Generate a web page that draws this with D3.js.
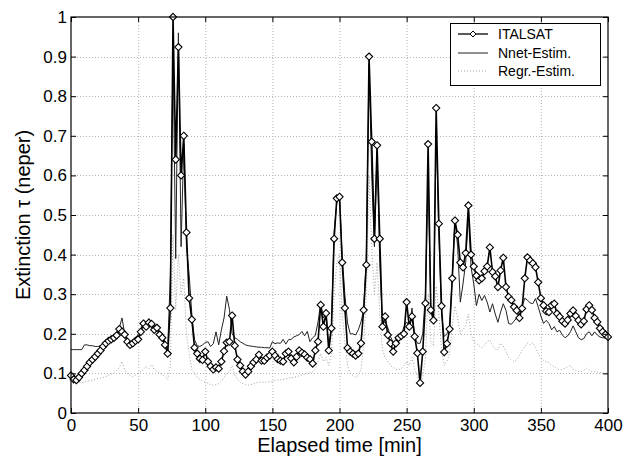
<!DOCTYPE html>
<html>
<head>
<meta charset="utf-8">
<script src="https://cdn.jsdelivr.net/npm/d3@7"></script>
<style>
  body { margin: 0; background: #fff; }
  svg { display: block; font-family: "Liberation Sans", Arial, Helvetica, sans-serif; }
</style>
</head>
<body>
<div id="chart"></div>
<script>
// sample times, one every 2 minutes
const minutes = d3.range(0, 401, 2);

const italsat = [
  0.095,0.085,0.083,0.09,0.10,0.108,0.118,0.128,0.135,0.142,
  0.15,0.158,0.168,0.176,0.182,0.186,0.19,0.196,0.212,0.205,
  0.198,0.18,0.172,0.176,0.182,0.186,0.205,0.226,0.218,0.228,
  0.225,0.21,0.215,0.198,0.19,0.172,0.15,0.265,1.0,0.64,
  0.924,0.60,0.70,0.456,0.29,0.236,0.165,0.15,0.137,0.134,
  0.155,0.13,0.118,0.11,0.115,0.112,0.13,0.156,0.178,0.18,
  0.246,0.17,0.135,0.12,0.105,0.097,0.105,0.118,0.128,0.135,
  0.147,0.132,0.132,0.14,0.145,0.155,0.145,0.136,0.132,0.13,
  0.15,0.155,0.138,0.128,0.142,0.158,0.152,0.148,0.14,0.136,
  0.125,0.158,0.18,0.273,0.218,0.252,0.158,0.214,0.44,0.542,
  0.546,0.38,0.265,0.164,0.155,0.15,0.145,0.15,0.176,0.26,
  0.374,0.90,0.685,0.44,0.676,0.44,0.218,0.244,0.197,0.176,
  0.155,0.176,0.19,0.195,0.2,0.28,0.218,0.244,0.193,0.151,
  0.076,0.155,0.277,0.679,0.26,0.234,0.77,0.478,0.27,0.154,
  0.175,0.212,0.34,0.486,0.45,0.38,0.368,0.404,0.524,0.40,
  0.37,0.347,0.335,0.34,0.358,0.37,0.418,0.356,0.345,0.318,
  0.36,0.392,0.318,0.293,0.285,0.268,0.259,0.24,0.264,0.34,
  0.393,0.385,0.378,0.368,0.33,0.29,0.272,0.257,0.255,0.272,
  0.276,0.251,0.243,0.232,0.226,0.235,0.251,0.259,0.245,0.234,
  0.224,0.232,0.262,0.272,0.26,0.24,0.23,0.214,0.205,0.198,
  0.192
];

const nnetEstim = [
  0.16,0.16,0.16,0.16,0.16,0.172,0.172,0.17,0.17,0.168,
  0.168,0.17,0.178,0.18,0.183,0.19,0.193,0.2,0.215,0.24,
  0.2,0.185,0.178,0.18,0.19,0.198,0.21,0.232,0.225,0.238,
  0.228,0.22,0.215,0.205,0.2,0.18,0.16,0.35,0.92,0.39,
  0.96,0.42,0.68,0.42,0.35,0.25,0.185,0.17,0.168,0.172,
  0.178,0.18,0.168,0.175,0.205,0.172,0.21,0.24,0.295,0.262,
  0.2,0.19,0.186,0.18,0.176,0.172,0.17,0.169,0.168,0.167,
  0.166,0.166,0.165,0.165,0.164,0.18,0.175,0.177,0.176,0.186,
  0.174,0.185,0.186,0.192,0.195,0.198,0.206,0.195,0.206,0.18,
  0.19,0.196,0.23,0.277,0.24,0.252,0.17,0.22,0.46,0.53,
  0.55,0.40,0.298,0.227,0.2,0.2,0.197,0.21,0.23,0.26,
  0.40,0.88,0.60,0.42,0.66,0.378,0.227,0.23,0.215,0.193,
  0.178,0.18,0.188,0.195,0.218,0.23,0.218,0.265,0.193,0.176,
  0.176,0.2,0.3,0.6,0.267,0.242,0.72,0.45,0.25,0.193,
  0.2,0.217,0.343,0.49,0.42,0.28,0.326,0.38,0.5,0.368,
  0.326,0.271,0.3,0.284,0.297,0.28,0.255,0.276,0.25,0.229,
  0.255,0.276,0.259,0.226,0.224,0.232,0.24,0.25,0.268,0.29,
  0.285,0.278,0.276,0.289,0.268,0.245,0.226,0.234,0.226,0.21,
  0.218,0.205,0.209,0.197,0.19,0.195,0.205,0.22,0.205,0.19,
  0.185,0.188,0.2,0.205,0.195,0.205,0.197,0.192,0.19,0.19,
  0.19
];

const regrEstim = [
  0.085,0.082,0.08,0.078,0.077,0.078,0.08,0.082,0.083,0.085,
  0.087,0.088,0.09,0.092,0.095,0.098,0.102,0.108,0.115,0.13,
  0.11,0.1,0.095,0.092,0.096,0.1,0.105,0.11,0.118,0.112,
  0.122,0.11,0.105,0.1,0.098,0.092,0.085,0.12,0.45,0.26,
  0.40,0.3,0.34,0.2,0.15,0.11,0.1,0.09,0.085,0.08,
  0.078,0.075,0.072,0.07,0.072,0.074,0.08,0.09,0.1,0.105,
  0.12,0.095,0.085,0.078,0.074,0.072,0.07,0.072,0.074,0.076,
  0.078,0.078,0.078,0.078,0.079,0.08,0.082,0.083,0.084,0.085,
  0.086,0.088,0.089,0.09,0.092,0.094,0.096,0.098,0.1,0.102,
  0.104,0.11,0.13,0.15,0.13,0.14,0.12,0.15,0.3,0.38,
  0.4,0.25,0.18,0.12,0.1,0.095,0.09,0.095,0.11,0.17,
  0.3,0.6,0.42,0.3,0.38,0.25,0.16,0.14,0.13,0.12,
  0.115,0.11,0.11,0.112,0.12,0.13,0.12,0.14,0.11,0.095,
  0.07,0.09,0.14,0.3,0.18,0.17,0.32,0.25,0.16,0.12,
  0.13,0.15,0.22,0.27,0.24,0.2,0.21,0.22,0.25,0.2,
  0.18,0.176,0.17,0.165,0.17,0.18,0.184,0.17,0.162,0.159,
  0.176,0.17,0.155,0.14,0.134,0.13,0.135,0.145,0.158,0.168,
  0.177,0.172,0.177,0.165,0.15,0.138,0.132,0.13,0.127,0.12,
  0.117,0.112,0.109,0.11,0.113,0.117,0.12,0.11,0.107,0.105,
  0.104,0.108,0.113,0.108,0.104,0.105,0.103,0.102,0.101,0.1,
  0.1
];

const xTicks = [0, 50, 100, 150, 200, 250, 300, 350, 400];
const yTicks = [0, 0.1, 0.2, 0.3, 0.4, 0.5, 0.6, 0.7, 0.8, 0.9, 1];
const xTickLabels = ["0", "50", "100", "150", "200", "250", "300", "350", "400"];
const yTickLabels = ["0", "0.1", "0.2", "0.3", "0.4", "0.5", "0.6", "0.7", "0.8", "0.9", "1"];
const legendNames = ["ITALSAT", "Nnet-Estim.", "Regr.-Estim."];

const width = 641, height = 463;
const margin = {top: 17, right: 33, bottom: 50, left: 71};
const plotW = width - margin.left - margin.right;
const plotH = height - margin.top - margin.bottom;

const svg = d3.select("#chart").append("svg")
  .attr("width", width)
  .attr("height", height);

const x = d3.scaleLinear().domain([0, 400]).range([margin.left, margin.left + plotW]);
const y = d3.scaleLinear().domain([0, 1]).range([margin.top + plotH, margin.top]);

// grid
const grid = svg.append("g")
  .attr("stroke", "#b5b5b5")
  .attr("stroke-width", 1)
  .attr("stroke-dasharray", "1,2");
grid.selectAll(".gx").data(xTicks.slice(1, -1)).enter().append("line")
  .attr("x1", d => x(d) + 0.5).attr("x2", d => x(d) + 0.5)
  .attr("y1", y(0)).attr("y2", y(1));
grid.selectAll(".gy").data(yTicks.slice(1, -1)).enter().append("line")
  .attr("y1", d => Math.round(y(d)) + 0.5).attr("y2", d => Math.round(y(d)) + 0.5)
  .attr("x1", x(0)).attr("x2", x(400));

// series
const line = vals => d3.line()
  .x((d, i) => x(minutes[i]))
  .y(d => y(d))(vals);

svg.append("path")
  .attr("d", line(regrEstim))
  .attr("fill", "none")
  .attr("stroke", "#a0a0a0")
  .attr("stroke-width", 1)
  .attr("stroke-dasharray", "1,2");

svg.append("path")
  .attr("d", line(nnetEstim))
  .attr("fill", "none")
  .attr("stroke", "#222")
  .attr("stroke-width", 1);

svg.append("path")
  .attr("d", line(italsat))
  .attr("fill", "none")
  .attr("stroke", "#000")
  .attr("stroke-width", 1.6);

const r = 3.6;
const diamond = `M0,${-r}L${r},0L0,${r}L${-r},0Z`;
svg.append("g").selectAll("path").data(italsat).enter().append("path")
  .attr("d", diamond)
  .attr("transform", (d, i) => `translate(${x(minutes[i])},${y(d)})`)
  .attr("fill", "#fff")
  .attr("stroke", "#000")
  .attr("stroke-width", 1.1);

// axes
const xAxis = d3.axisBottom(x).tickValues(xTicks)
  .tickFormat((d, i) => xTickLabels[i])
  .tickSizeInner(-5).tickSizeOuter(0).tickPadding(6);
const yAxis = d3.axisLeft(y).tickValues(yTicks)
  .tickFormat((d, i) => yTickLabels[i])
  .tickSizeInner(-5).tickSizeOuter(0).tickPadding(4);

const gx = svg.append("g").attr("transform", `translate(0,${y(0)})`).call(xAxis);
const gy = svg.append("g").attr("transform", `translate(${x(0)},0)`).call(yAxis);
const gt = svg.append("g").attr("transform", `translate(0,${y(1)})`)
  .call(d3.axisTop(x).tickValues(xTicks).tickFormat("").tickSizeInner(-5).tickSizeOuter(0));
const gr = svg.append("g").attr("transform", `translate(${x(400)},0)`)
  .call(d3.axisRight(y).tickValues(yTicks).tickFormat("").tickSizeInner(-5).tickSizeOuter(0));

[gx, gy, gt, gr].forEach(g => {
  g.select(".domain").remove();
  g.selectAll("line").attr("stroke", "#000");
  g.selectAll("text").attr("fill", "#000")
    .style("font-size", "17px")
    .style("font-family", '"Liberation Sans", Arial, sans-serif');
});

svg.append("rect")
  .attr("x", x(0)).attr("y", y(1))
  .attr("width", plotW).attr("height", plotH)
  .attr("fill", "none").attr("stroke", "#000").attr("stroke-width", 1.2);

// axis titles
svg.append("text")
  .attr("x", x(200)).attr("y", 452)
  .attr("text-anchor", "middle")
  .style("font-size", "20px")
  .text("Elapsed time [min]");

svg.append("text")
  .attr("transform", `translate(30,${(y(0) + y(1)) / 2}) rotate(-90)`)
  .attr("text-anchor", "middle")
  .style("font-size", "20px")
  .text("Extinction τ (neper)");

// legend
const legend = svg.append("g");
legend.append("rect")
  .attr("x", 450.5).attr("y", 23.5)
  .attr("width", 150).attr("height", 62)
  .attr("fill", "#fff").attr("stroke", "#000").attr("stroke-width", 1);

const legendY = [34, 53, 71];
const legendStyle = [
  {stroke: "#000", width: 1.3, dash: null},
  {stroke: "#222", width: 1, dash: null},
  {stroke: "#a0a0a0", width: 1, dash: "1,2"}
];
legendNames.forEach((name, i) => {
  legend.append("line")
    .attr("x1", 458).attr("x2", 488)
    .attr("y1", legendY[i]).attr("y2", legendY[i])
    .attr("stroke", legendStyle[i].stroke)
    .attr("stroke-width", legendStyle[i].width)
    .attr("stroke-dasharray", legendStyle[i].dash);
  if (i === 0) {
    legend.append("path")
      .attr("d", `M0,-3L3,0L0,3L-3,0Z`)
      .attr("transform", `translate(473,${legendY[i]})`)
      .attr("fill", "#fff").attr("stroke", "#000");
  }
  legend.append("text")
    .attr("x", 498).attr("y", legendY[i])
    .attr("dy", "0.35em")
    .style("font-size", "14px")
    .text(name);
});
</script>
</body>
</html>
